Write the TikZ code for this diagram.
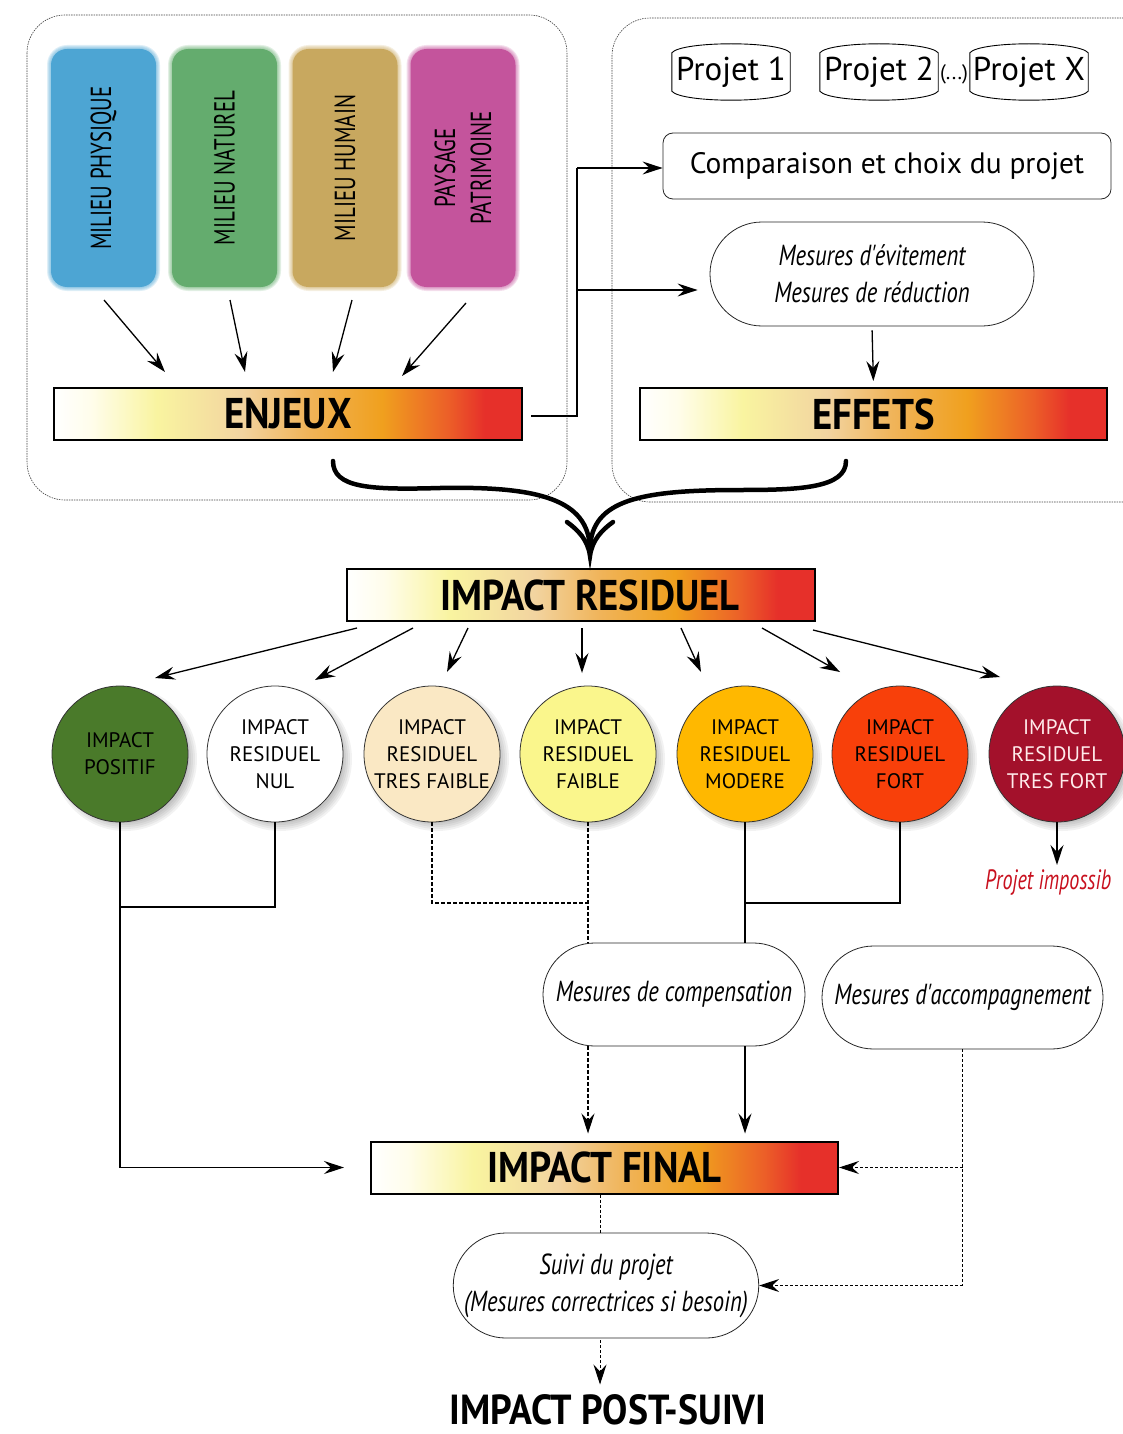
\documentclass[tikz,border=0pt]{standalone}
\usepackage{fontspec}
\setmainfont{PT Sans}
\newfontfamily\narrowf[FakeStretch=0.72]{PT Sans}
\newfontfamily\italf[FakeStretch=0.78]{PT Sans}
\newfontfamily\headf[FakeStretch=0.9]{PT Sans}
\usetikzlibrary{arrows.meta,shapes.misc,calc}
\definecolor{h1}{RGB}{255,253,235}
\definecolor{h2}{RGB}{249,244,160}
\definecolor{h3}{RGB}{242,212,160}
\definecolor{h4}{RGB}{240,180,90}
\definecolor{h5}{RGB}{240,160,30}
\definecolor{h6}{RGB}{236,96,40}
\definecolor{h7}{RGB}{230,48,42}
\definecolor{mblue}{RGB}{77,165,211}
\definecolor{mgreen}{RGB}{100,172,110}
\definecolor{mtan}{RGB}{200,168,95}
\definecolor{mmag}{RGB}{196,84,156}
\definecolor{cA}{RGB}{74,122,42}
\definecolor{cB}{RGB}{255,255,255}
\definecolor{cC}{RGB}{250,232,196}
\definecolor{cD}{RGB}{250,246,140}
\definecolor{cE}{RGB}{255,184,0}
\definecolor{cF}{RGB}{248,64,10}
\definecolor{cG}{RGB}{163,17,43}
\definecolor{redtxt}{RGB}{200,16,30}
\pgfdeclarehorizontalshading{heat}{100bp}{color(0bp)=(white); color(25bp)=(white); color(29bp)=(h1); color(36bp)=(h2); color(45bp)=(h3); color(52bp)=(h4); color(60bp)=(h5); color(67bp)=(h6); color(71bp)=(h7); color(75bp)=(h7); color(100bp)=(h7)}
\begin{document}
\begin{tikzpicture}[x=1pt,y=-1pt,
 panel/.style={draw=black!75, line width=0.6pt, dash pattern=on 1.5pt off 1pt, rounded corners=38pt},
 milieu/.style={rounded corners=16pt, minimum width=105pt, minimum height=238pt, inner sep=0pt},
 mlab/.style={rotate=90, font=\narrowf\fontsize{29}{36}\selectfont, align=center},
 bar/.style={draw=black, line width=2pt, shading=heat, minimum height=52pt, inner sep=0pt, font=\headf\bfseries\fontsize{43}{45}\selectfont},
 proj/.style={minimum width=118pt, minimum height=46pt, inner sep=0pt, font=\fontsize{33}{36}\selectfont},
 stad/.style={rounded rectangle, draw=black!85, line width=0.8pt, fill=white, inner sep=0pt, font=\italf\itshape\fontsize{29}{37}\selectfont, align=center},
 circ/.style={circle, draw=black!80, line width=0.8pt, minimum size=136pt, inner sep=0pt, align=center, font=\fontsize{21}{27}\selectfont},
 arr/.style={line width=1.3pt, -{Stealth[length=20pt,width=13pt,inset=7pt]}},
 ln/.style={line width=1.3pt},
 dln/.style={line width=1.1pt, dash pattern=on 4pt off 2pt},
]
\useasboundingbox (0,0) rectangle (1123,1434);
% panels
\draw[panel] (27,15) rectangle (567,500);
\draw[panel] (1123,502) -- (612,502) -- (612,18) -- (1123,18);
% milieu boxes (soft edges)
\foreach \c/\x in {mblue/103.5,mgreen/224.5,mtan/345,mmag/463}{
  \foreach \k in {1,2,3,4}{
    \fill[\c, opacity=0.18, rounded corners=16pt+\k pt] (\x-52.5-\k,49-\k) rectangle (\x+52.5+\k,287+\k);
  }
}
\node[milieu, fill=mblue] (m1) at (103.5,168) {};
\node[milieu, fill=mgreen] (m2) at (224.5,168) {};
\node[milieu, fill=mtan] (m3) at (345,168) {};
\node[milieu, fill=mmag] (m4) at (463,168) {};
\node[mlab] (m1t) at (m1) {MILIEU PHYSIQUE};
\node[mlab] (m2t) at (m2) {MILIEU NATUREL};
\node[mlab] (m3t) at (m3) {MILIEU HUMAIN};
\node[mlab] (m4t) at (m4) {PAYSAGE\\PATRIMOINE};
% bars
\node[bar, minimum width=468pt] (enjeux) at (288,414) {ENJEUX};
\node[bar, minimum width=467pt] (effets) at (873.5,414) {EFFETS};
\node[bar, minimum width=468pt] (resid) at (581,595) {\hspace*{18pt}IMPACT RESIDUEL};
\node[bar, minimum width=467pt] (final) at (604.5,1167.5) {IMPACT FINAL};
\node[inner sep=0pt, font=\headf\bfseries\fontsize{42}{45}\selectfont] (post) at (608,1410) {IMPACT POST-SUIVI};
% arrows milieu -> enjeux
\draw[arr] ($(m1)+(0.5,132)$) -- ($(enjeux)+(-123,-42)$);
\draw[arr] ($(m2)+(5.5,132)$) -- ($(enjeux)+(-43,-42)$);
\draw[arr] ($(m3)+(7,132)$) -- ($(enjeux)+(45,-42)$);
\draw[arr] ($(m4)+(3,135)$) -- ($(enjeux)+(114,-38)$);
% projets
\node[proj] (p1) at (731,72) {Projet 1};
\node[proj] (p2) at (879,72) {Projet 2};
\node[proj] (px) at (1029,72) {Projet X};
\node[font=\fontsize{21}{24}\selectfont, inner sep=0pt] (dots) at (954,74) {(...)};
\foreach \n in {p1,p2,px}{
  \draw[line width=0.9pt] ($(\n.north west)+(0,4)$) .. controls ($(\n.north west)+(10,-8)$) and ($(\n.north east)+(-10,-8)$) .. ($(\n.north east)+(0,4)$) -- ($(\n.south east)+(0,-4)$) .. controls ($(\n.south east)+(-10,8)$) and ($(\n.south west)+(10,8)$) .. ($(\n.south west)+(0,-4)$) -- cycle;
}
\node[draw=black!85, line width=0.8pt, rounded corners=10pt, minimum width=448pt, minimum height=66pt, inner sep=0pt, font=\fontsize{29.5}{33}\selectfont] (comp) at (887,166) {Comparaison et choix du projet};
\node[stad, minimum width=324pt, minimum height=104pt] (evit) at (872,274) {Mesures d'évitement\\Mesures de réduction};
% enjeux connectors
\coordinate (jtop) at (577,168);
\coordinate (jmid) at (577,290);
\draw[ln] ($(enjeux.east)+(8,2)$) -| (jtop);
\draw[arr] (jtop) -- (comp.west |- jtop);
\draw[arr, shorten >=12pt] (jmid) -- (jmid -| evit.west);
\draw[arr, shorten <=4pt, shorten >=6pt] (evit.south) -- (effets.north);
% brace
\begin{scope}[line width=4.5pt, line cap=round]
\draw ($(enjeux.south)+(45,20)$) .. controls (333,488) and (370,490) .. (440,488) .. controls (540,486) and (588,500) .. (590,548);
\draw ($(effets.south)+(-27.5,20)$) .. controls (846,488) and (800,490) .. (740,490) .. controls (640,490) and (592,500) .. (590,548);
\draw (567,522) .. controls (578,530) and (588,540) .. (590,556) .. controls (592,540) and (602,530) .. (613,522);
\end{scope}
% circles shadows
\foreach \x in {120,275,432,588,745,900,1057}{
  \foreach \k in {0,2,4,6,8}{
    \fill[black, opacity=0.05] (\x+5,759) circle ({64+\k});
  }
}
\node[circ, fill=cA, text=black] (c1) at (120,754) {IMPACT\\POSITIF};
\node[circ, fill=cB] (c2) at (275,754) {IMPACT\\RESIDUEL\\NUL};
\node[circ, fill=cC] (c3) at (432,754) {IMPACT\\RESIDUEL\\TRES FAIBLE};
\node[circ, fill=cD] (c4) at (588,754) {IMPACT\\RESIDUEL\\FAIBLE};
\node[circ, fill=cE] (c5) at (745,754) {IMPACT\\RESIDUEL\\MODERE};
\node[circ, fill=cF] (c6) at (900,754) {IMPACT\\RESIDUEL\\FORT};
\node[circ, fill=cG, text=white!92!red] (c7) at (1057,754) {IMPACT\\RESIDUEL\\TRES FORT};
% arrows resid -> circles
\draw[arr] ($(resid)+(-224,33)$) -- ($(c1)+(35,-76)$);
\draw[arr] ($(resid)+(-168,33)$) -- ($(c2)+(40,-74)$);
\draw[arr] ($(resid)+(-113,33)$) -- ($(c3)+(15,-82)$);
\draw[arr] ($(resid)+(1,33)$) -- ($(c4)+(-6,-81)$);
\draw[arr] ($(resid)+(100,33)$) -- ($(c5)+(-44,-82)$);
\draw[arr] ($(resid)+(181,33)$) -- ($(c6)+(-60,-82)$);
\draw[arr] ($(resid)+(232,35)$) -- ($(c7)+(-57,-77)$);
% projet impossible
\node[anchor=west, inner sep=0pt, text=redtxt, font=\narrowf\itshape\fontsize{28}{33}\selectfont] (imp) at (985,882) {Projet impossib};
\draw[arr, shorten >=4pt] (c7.south) -- (c7.south |- imp.north);
% measures
\node[stad, minimum width=262pt, minimum height=103pt] (compens) at (674,994.5) {Mesures de compensation};
\node[stad, minimum width=281pt, minimum height=103pt] (accomp) at (962.5,997.5) {Mesures d'accompagnement};
\node[stad, minimum width=302pt, minimum height=105pt] (suivi) at (606,1285.5) {Suivi du projet\\(Mesures correctrices si besoin)};
% circle links
\coordinate (j12) at (120,907);
\coordinate (j34) at (588,903);
\coordinate (j56) at (745,903);
\draw[ln] (c2.south) |- (j12);
\draw[arr, shorten >=26pt] (c1.south) |- (final.west);
\draw[dln] (c3.south) |- (j34);
\draw[dln] (c4.south) -- (c4.south |- compens.north);
\draw[ln] (c6.south) |- (j56);
\draw[ln] (c5.south) -- (c5.south |- compens.north);
\draw[arr, dash pattern=on 4pt off 2pt, line width=1.1pt, shorten >=7pt] (compens.south -| c4.south) -- (final.north -| c4.south);
\draw[arr, shorten >=7pt] (compens.south -| c5.south) -- (final.north -| c5.south);
% accompagnement
\coordinate (jacc) at (accomp.south |- suivi.east);
\draw[line width=1pt, densely dashed] (accomp.south) -- (jacc);
\draw[arr, line width=1pt, densely dashed] (accomp.south |- final.east) -- (final.east);
\draw[arr, line width=1pt, densely dashed] (jacc) -- (suivi.east);
% final -> suivi -> post
\draw[line width=1pt, densely dashed] (final.south -| 600,0) -- (suivi.north -| 600,0);
\draw[arr, line width=1pt, densely dashed, shorten <=2pt, shorten >=10pt] (suivi.south -| 600,0) -- (post.north -| 600,0);
\end{tikzpicture}
\end{document}
